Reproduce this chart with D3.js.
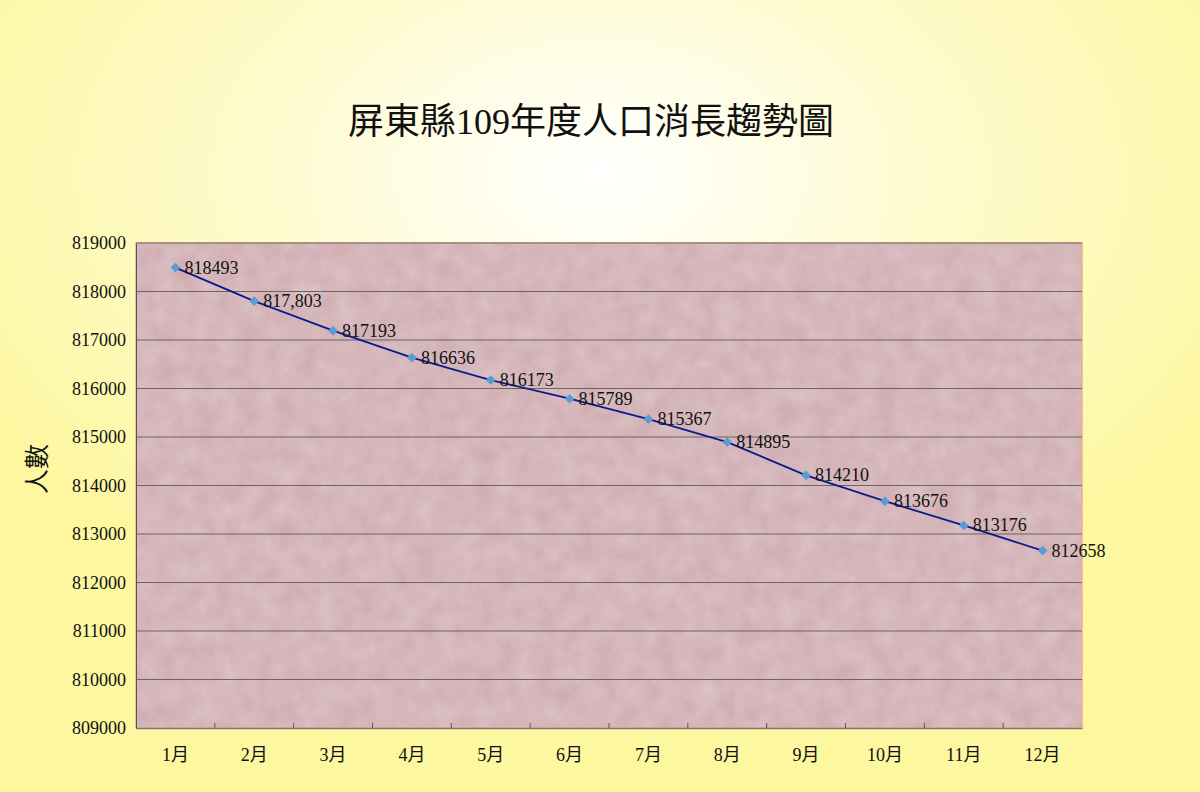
<!DOCTYPE html>
<html><head><meta charset="utf-8">
<script src="https://cdn.jsdelivr.net/npm/d3@7"></script>
<style>body{margin:0;overflow:hidden}</style>
</head><body>
<svg width="1200" height="792"></svg>
<script>
var months = ["1月","2月","3月","4月","5月","6月","7月","8月","9月","10月","11月","12月"]
var population = [818493,817803,817193,816636,816173,815789,815367,814895,814210,813676,813176,812658]
var labels = ["818493","817,803","817193","816636","816173","815789","815367","814895","814210","813676","813176","812658"]
var yTicks = [809000,810000,811000,812000,813000,814000,815000,816000,817000,818000,819000]

var svg = d3.select("svg"),
    margin = { top: 243, right: 118, bottom: 64, left: 136 },
    width = 1200 - margin.left - margin.right,
    height = 792 - margin.top - margin.bottom
var serif = "'Liberation Serif','Noto Sans CJK TC',serif"

var defs = svg.append("defs")
var bg = defs.append("radialGradient").attr("id", "bg")
    .attr("cx", "50%").attr("cy", "22%").attr("r", "60%")
bg.append("stop").attr("offset", "0%").attr("stop-color", "#ffffff")
bg.append("stop").attr("offset", "45%").attr("stop-color", "#fefbd0")
bg.append("stop").attr("offset", "100%").attr("stop-color", "#fdf7a0")
var f = defs.append("filter").attr("id", "tex")
    .attr("x", 0).attr("y", 0).attr("width", 1).attr("height", 1)
f.append("feTurbulence").attr("type", "fractalNoise").attr("baseFrequency", 0.05).attr("numOctaves", 3).attr("result", "n")
f.append("feColorMatrix").attr("type", "matrix")
    .attr("values", "0 0 0 0 0.86  0 0 0 0 0.74  0 0 0 0 0.76  0 0 0 0.5 0")

svg.append("rect").attr("width", 1200).attr("height", 792).attr("fill", "url(#bg)")

svg.append("text").attr("x", 591).attr("y", 134).attr("text-anchor", "middle")
    .attr("font-family", serif).attr("font-size", 36).attr("fill", "#111")
    .text("屏東縣109年度人口消長趨勢圖")

var g = svg.append("g").attr("transform", "translate(" + margin.left + "," + margin.top + ")")

var x = d3.scaleBand().domain(months).range([0, width])
var y = d3.scaleLinear().domain([809000, 819000]).range([height, 0])

g.append("rect").attr("width", width).attr("height", height).attr("fill", "#cda9ad")
g.append("rect").attr("width", width).attr("height", height).attr("filter", "url(#tex)")
g.append("rect").attr("width", width).attr("height", height).attr("fill", "none")
    .attr("stroke", "#e8b090").attr("stroke-width", 1.5)

g.selectAll(".grid").data(yTicks.slice(1)).enter().append("line")
    .attr("x1", 0).attr("x2", width)
    .attr("y1", d => y(d)).attr("y2", d => y(d))
    .attr("stroke", "#6e6264").attr("stroke-width", 1)

var yAxis = g.append("g").call(d3.axisLeft(y).tickValues(yTicks).tickFormat(d3.format("d")).tickSize(0).tickPadding(10))
yAxis.select(".domain").attr("stroke", "#555")
yAxis.selectAll("text").attr("font-family", serif).attr("font-size", 18).attr("fill", "#111")

var xAxis = g.append("g").attr("transform", "translate(0," + height + ")")
    .call(d3.axisBottom(x).tickSize(0).tickPadding(20))
xAxis.select(".domain").attr("stroke", "#8a7070").attr("stroke-width", 1.5)
xAxis.selectAll("text").attr("font-family", serif).attr("font-size", 18).attr("fill", "#111")
g.selectAll(".xt").data(months.slice(1)).enter().append("line")
    .attr("x1", d => x(d)).attr("x2", d => x(d))
    .attr("y1", height).attr("y2", height - 5).attr("stroke", "#555")

svg.append("text").attr("transform", "translate(46,469) rotate(-90)")
    .attr("text-anchor", "middle").attr("font-family", serif).attr("font-size", 25).attr("fill", "#111")
    .text("人數")

var cx = d => x(d) + x.bandwidth() / 2
var line = d3.line().x((d, i) => cx(months[i])).y(d => y(d))
g.append("path").datum(population).attr("fill", "none")
    .attr("stroke", "#0a1c8a").attr("stroke-width", 1.8).attr("d", line)

g.selectAll(".pt").data(population).enter().append("path")
    .attr("d", d3.symbol(d3.symbolDiamond2, 60))
    .attr("transform", (d, i) => "translate(" + cx(months[i]) + "," + y(d) + ")")
    .attr("fill", "#5b9bd5")

g.selectAll(".lbl").data(population).enter().append("text")
    .attr("x", (d, i) => cx(months[i]) + 9).attr("y", d => y(d) + 6)
    .attr("font-family", serif).attr("font-size", 18).attr("fill", "#111")
    .text((d, i) => labels[i])
</script>
</body></html>
